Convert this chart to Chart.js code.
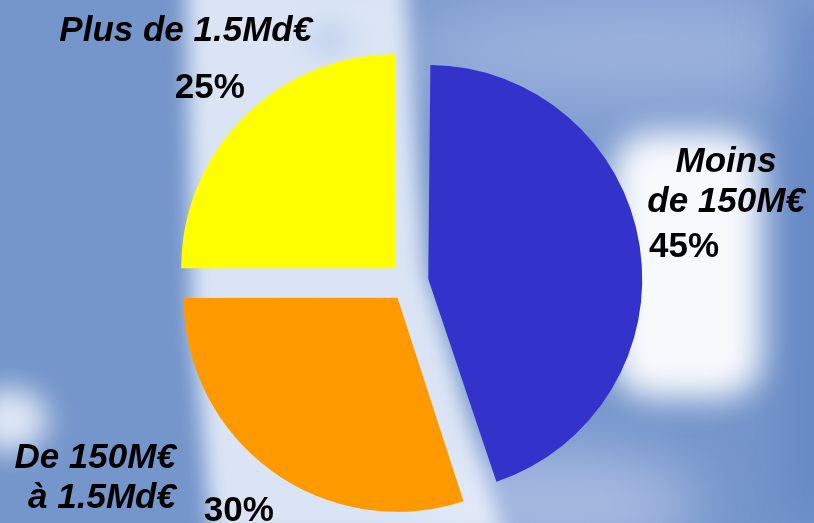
<!DOCTYPE html>
<html>
<head>
<meta charset="utf-8">
<script src="https://cdn.jsdelivr.net/npm/chart.js@4.4.1/dist/chart.umd.min.js"></script>
<style>
  html, body { margin: 0; padding: 0; background: #7596cb; }
  canvas { display: block; }
</style>
</head>
<body>
<canvas id="pie" width="814" height="523"></canvas>
<script>
const categories = [["Moins", "de 150M€"], ["De 150M€", "à 1.5Md€"], ["Plus de 1.5Md€"]];
const shares = [45, 30, 25];
const percentLabels = ["45%", "30%", "25%"];
const sliceColors = ["#3333cc", "#ff9900", "#ffff00"];

// where each name sits relative to its percent label (dx, first baseline dy, align)
const nameLayout = [
  { dx: 42, dy: -73, align: "center" },
  { dx: -63, dy: -41, align: "right" },
  { dx: -24, dy: -45, align: "center" },
];
const pctNudge = [[1, 6], [-7, 2], [-3, 0]];

const SLIDE_GAP = 19.5; // px each slice is pulled out

const backdrop = {
  id: "backdrop",
  beforeDraw(chart) {
    const ctx = chart.ctx;
    const blob = (blur, color, fn) => {
      ctx.save();
      ctx.filter = `blur(${blur}px)`;
      ctx.fillStyle = color;
      ctx.beginPath();
      fn();
      ctx.fill();
      ctx.restore();
    };
    ctx.save();
    ctx.fillStyle = "#7596cb";
    ctx.fillRect(0, 0, chart.width, chart.height);
    ctx.restore();
    blob(40, "#9fb4de", () => ctx.ellipse(640, 50, 260, 55, 0, 0, Math.PI * 2));
    blob(30, "#a6b9e0", () => ctx.ellipse(560, 505, 140, 55, 0, 0, Math.PI * 2));
    blob(25, "#6587c3", () => ctx.rect(785, 0, 60, 523));
    blob(10, "rgba(236,242,252,0.85)", () => {
      ctx.moveTo(186, -20);
      ctx.lineTo(405, -20);
      ctx.lineTo(425, 270);
      ctx.lineTo(505, 540);
      ctx.lineTo(212, 540);
      ctx.lineTo(192, 320);
    });
    blob(14, "rgba(170,192,228,0.7)", () => ctx.ellipse(330, 40, 20, 14, 0, 0, Math.PI * 2));
    blob(16, "#f7f9fd", () => ctx.roundRect(612, 132, 150, 266, 40));
    blob(14, "rgba(240,244,252,0.85)", () => ctx.ellipse(10, 420, 38, 32, 0, 0, Math.PI * 2));
  },
};

// keep every pulled-out slice at the same radius
const evenRadius = {
  id: "evenRadius",
  afterDatasetsUpdate(chart) {
    const meta = chart.getDatasetMeta(0);
    meta.data.forEach((arc) => {
      const fix = 1 - Math.sin(Math.min(Math.PI, arc.circumference));
      arc.outerRadius = meta.controller.outerRadius - SLIDE_GAP * fix;
    });
  },
};

const sliceLabels = {
  id: "sliceLabels",
  afterDraw(chart) {
    const ctx = chart.ctx;
    const meta = chart.getDatasetMeta(0);
    const r = meta.controller.outerRadius;
    ctx.save();
    ctx.fillStyle = "#000";
    meta.data.forEach((arc, i) => {
      const mid = (arc.startAngle + arc.endAngle) / 2;
      const cx = arc.x + Math.cos(mid) * SLIDE_GAP;
      const cy = arc.y + Math.sin(mid) * SLIDE_GAP;
      const px = cx + Math.cos(mid) * (r + 44) + pctNudge[i][0];
      const py = cy + Math.sin(mid) * (r + 44) + pctNudge[i][1];
      ctx.font = "bold 35px 'Liberation Sans', Arial, sans-serif";
      ctx.textAlign = "center";
      ctx.textBaseline = "alphabetic";
      ctx.fillText(percentLabels[i], px, py + 12.5);

      const lay = nameLayout[i];
      ctx.font = "italic bold 35px 'Liberation Sans', Arial, sans-serif";
      ctx.textAlign = lay.align;
      categories[i].forEach((line, k) => {
        ctx.fillText(line, px + lay.dx, py + lay.dy + k * 40);
      });
    });
    ctx.restore();
  },
};

new Chart(document.getElementById("pie"), {
  type: "pie",
  data: {
    labels: categories.map((c) => c.join(" ")),
    datasets: [
      {
        data: shares,
        backgroundColor: sliceColors,
        borderWidth: 0,
        offset: SLIDE_GAP * 4,
        hoverOffset: 0,
        radius: 214,
      },
    ],
  },
  options: {
    responsive: false,
    animation: false,
    rotation: 0,
    layout: { padding: { top: 41, bottom: 0, left: 4, right: 0 } },
    plugins: {
      legend: { display: false },
      tooltip: { enabled: false },
    },
  },
  plugins: [backdrop, evenRadius, sliceLabels],
});
</script>
</body>
</html>
